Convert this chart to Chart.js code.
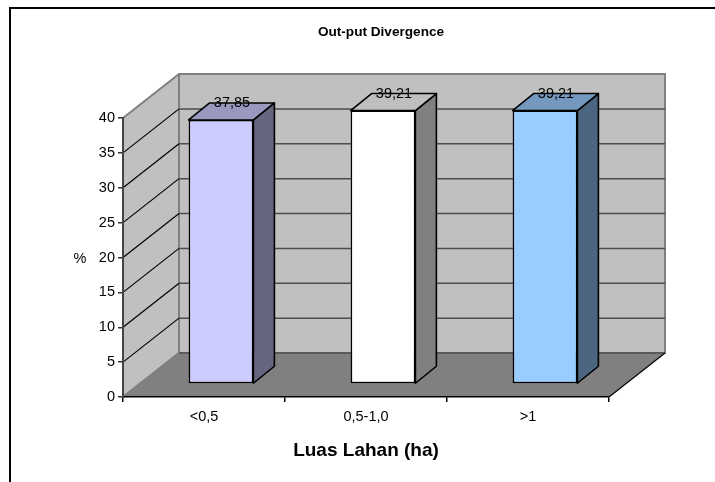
<!DOCTYPE html>
<html>
<head>
<meta charset="utf-8">
<title>Out-put Divergence</title>
<script src="https://cdn.jsdelivr.net/npm/chart.js@4"></script>
<style>
  html, body { margin: 0; padding: 0; background: #fff; overflow: hidden; }
  #wrap { position: relative; width: 715px; height: 482px; }
  #frame { position: absolute; left: 9px; top: 7px; right: 0; bottom: 0; border-top: 2px solid #000; border-left: 2px solid #000; }
  #chart { position: absolute; left: 0; top: 0; }
</style>
</head>
<body>
<div id="wrap">
  <div id="frame"></div>
  <canvas id="chart" width="715" height="482"></canvas>
</div>
<script>
// Data
const categories = ['<0,5', '0,5-1,0', '>1'];
const values = [37.85, 39.21, 39.21];
const tickStep = 5;
const tickMax = 40;

// Bar colours: front, top and side faces
const frontColors = ['#CCCCFF', '#FFFFFF', '#99CCFF'];
const topColors = ['#9999BF', '#BFBFBF', '#7399BF'];
const sideColors = ['#666680', '#808080', '#4D6680'];

const FONT = '"Liberation Sans", Arial, sans-serif';

// Depth of the 3D box and of the bars inside it
const wall = { dx: 56, dy: -44 };
const barShift = { dx: 17, dy: -13 };
const barDepth = { dx: 21, dy: -17 };

function poly(ctx, pts, fill, stroke, lineWidth) {
    ctx.beginPath();
    pts.forEach((p, i) => i ? ctx.lineTo(p[0], p[1]) : ctx.moveTo(p[0], p[1]));
    ctx.closePath();
    if (fill) { ctx.fillStyle = fill; ctx.fill(); }
    if (stroke) { ctx.strokeStyle = stroke; ctx.lineWidth = lineWidth; ctx.lineJoin = 'round'; ctx.stroke(); }
}

function line(ctx, x1, y1, x2, y2, color, width) {
    ctx.beginPath();
    ctx.moveTo(x1, y1);
    ctx.lineTo(x2, y2);
    ctx.strokeStyle = color;
    ctx.lineWidth = width;
    ctx.stroke();
}

// Walls, floor and grid lines, behind the axes
const box3d = {
    id: 'box3d',
    beforeDraw(chart) {
        const ctx = chart.ctx;
        const { left: l, right: r, top: t, bottom: b } = chart.chartArea;
        const d = wall;
        ctx.save();
        poly(ctx, [[l, b], [l + d.dx, b + d.dy], [l + d.dx, t + d.dy], [l, t]], '#C0C0C0', '#808080', 2);
        poly(ctx, [[l + d.dx, b + d.dy], [r + d.dx, b + d.dy], [r + d.dx, t + d.dy], [l + d.dx, t + d.dy]], '#C0C0C0', '#808080', 2);
        chart.scales.y.ticks.forEach(tick => {
            if (tick.value === 0 || tick.value === tickMax) return;
            const y = chart.scales.y.getPixelForValue(tick.value);
            line(ctx, l + d.dx, y + d.dy, r + d.dx, y + d.dy, '#4D4D4D', 1.5);
            line(ctx, l, y, l + d.dx, y + d.dy, '#000', 1.2);
        });
        poly(ctx, [[l, b], [r, b], [r + d.dx, b + d.dy], [l + d.dx, b + d.dy]], '#808080');
        line(ctx, l + d.dx, b + d.dy, r + d.dx, b + d.dy, '#4D4D4D', 1.5);
        line(ctx, l, b, l + d.dx, b + d.dy, '#808080', 2);
        line(ctx, r, b, r + d.dx, b + d.dy, '#000', 1.2);
        ctx.restore();
    },
    beforeDatasetsDraw(chart) {
        chart.ctx.save();
        chart.ctx.translate(barShift.dx, barShift.dy);
    },
    afterDatasetsDraw(chart) {
        const ctx = chart.ctx;
        ctx.restore();
        const bars = chart.getDatasetMeta(0).data;
        const d = barDepth;
        ctx.save();
        bars.forEach((bar, i) => {
            const half = bar.width / 2;
            const x1 = bar.x + barShift.dx - half;
            const x2 = bar.x + barShift.dx + half;
            const yt = bar.y + barShift.dy;
            const yb = bar.base + barShift.dy;
            poly(ctx, [[x2, yb], [x2 + d.dx, yb + d.dy], [x2 + d.dx, yt + d.dy], [x2, yt]], sideColors[i], '#000', 1.6);
            poly(ctx, [[x1, yt], [x2, yt], [x2 + d.dx, yt + d.dy], [x1 + d.dx, yt + d.dy]], topColors[i], '#000', 1.6);
        });
        // value labels sit on the back edge of the top face
        ctx.font = '14.5px ' + FONT;
        ctx.fillStyle = '#000';
        ctx.textAlign = 'center';
        ctx.textBaseline = 'middle';
        bars.forEach((bar, i) => {
            const label = values[i].toFixed(2).replace('.', ',');
            ctx.fillText(label, bar.x + barShift.dx + 11, bar.y + barShift.dy + d.dy);
        });
        // chart title and the upright unit label
        ctx.font = 'bold 13.6px ' + FONT;
        ctx.fillText('Out-put Divergence', 381, 32);
        ctx.font = '14.5px ' + FONT;
        ctx.fillText('%', 80, chart.scales.y.getPixelForValue(20) + 1);
        ctx.restore();
    }
};

new Chart(document.getElementById('chart').getContext('2d'), {
    type: 'bar',
    data: {
        labels: categories,
        datasets: [{
            label: 'Out-put Divergence',
            data: values,
            backgroundColor: frontColors,
            borderColor: '#000',
            borderWidth: 1.6,
            borderSkipped: false,
            barPercentage: 0.4,
            categoryPercentage: 1,
            clip: false
        }]
    },
    options: {
        responsive: false,
        animation: false,
        layout: { padding: { left: 0, right: 106, top: 118, bottom: 0 } },
        plugins: {
            legend: { display: false },
            tooltip: { enabled: false },
            title: { display: false }
        },
        scales: {
            x: {
                afterFit(scale) { scale.height = 85; },
                grid: { drawOnChartArea: false, color: '#000', lineWidth: 1.5, tickLength: 5 },
                border: { color: '#000', width: 1.5 },
                ticks: { color: '#000', padding: 6, maxRotation: 0, font: { family: FONT, size: 14.5 } },
                title: {
                    display: true,
                    text: 'Luas Lahan (ha)',
                    color: '#000',
                    padding: { top: 0, bottom: 20 },
                    font: { family: FONT, size: 19, weight: 'bold' }
                }
            },
            y: {
                min: 0,
                max: tickMax,
                afterFit(scale) { scale.width = 123; },
                grid: { drawOnChartArea: false, color: '#333', lineWidth: 1.5, tickLength: 5 },
                border: { color: '#444', width: 2 },
                ticks: { stepSize: tickStep, color: '#000', padding: 3, font: { family: FONT, size: 14.5 } }
            }
        }
    },
    plugins: [box3d]
});
</script>
</body>
</html>
